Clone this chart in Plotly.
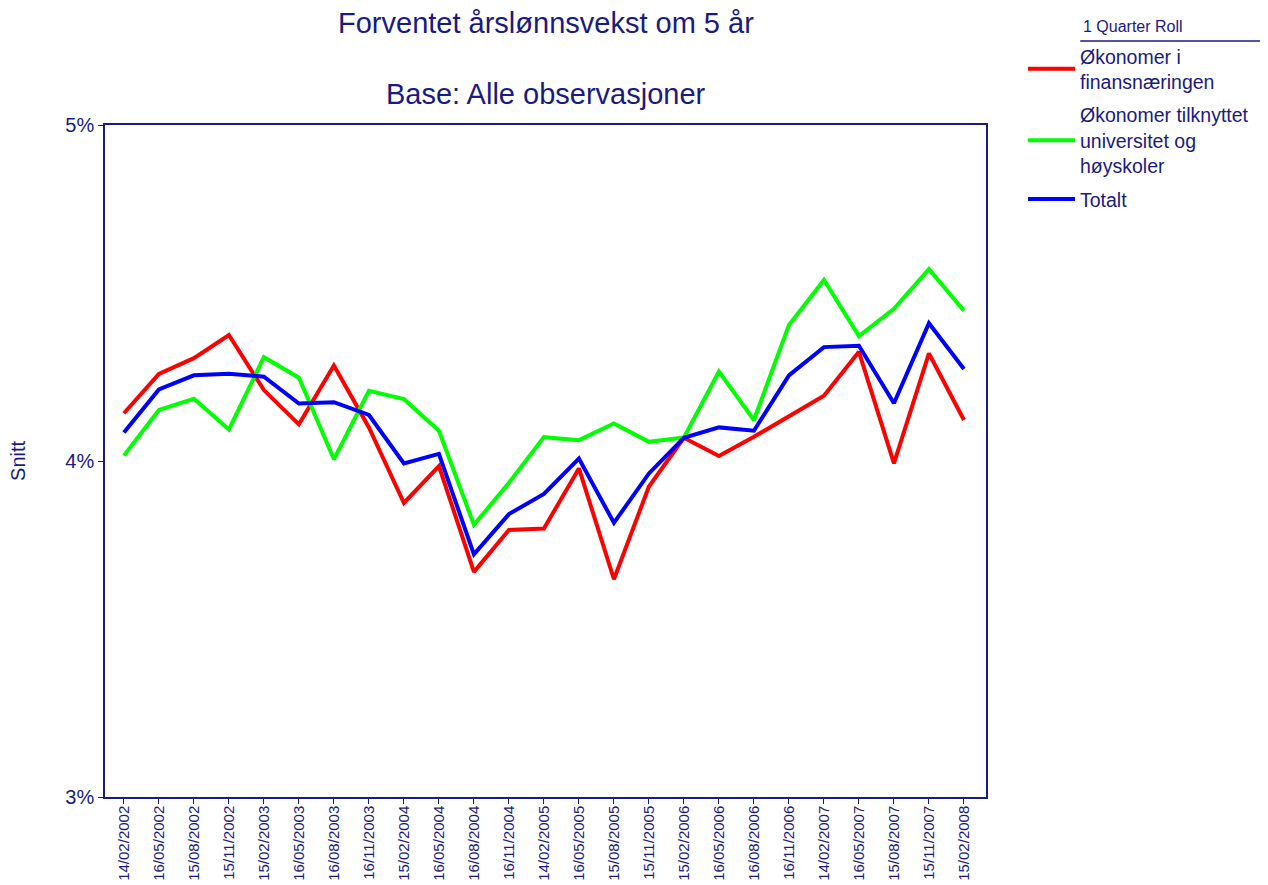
import plotly.graph_objects as go

# Kvartalsdatoer for undersøkelsen
dates = [
    "14/02/2002", "16/05/2002", "15/08/2002", "15/11/2002",
    "15/02/2003", "16/05/2003", "16/08/2003", "16/11/2003",
    "15/02/2004", "16/05/2004", "16/08/2004", "16/11/2004",
    "14/02/2005", "16/05/2005", "15/08/2005", "15/11/2005",
    "15/02/2006", "16/05/2006", "16/08/2006", "16/11/2006",
    "14/02/2007", "16/05/2007", "15/08/2007", "15/11/2007",
    "15/02/2008",
]

# Forventet årslønnsvekst (%)
finans = [4.142, 4.259, 4.306, 4.375, 4.211, 4.109, 4.284, 4.100, 3.875, 3.985,
          3.670, 3.795, 3.799, 3.978, 3.648, 3.924, 4.069, 4.015, 4.072, 4.134,
          4.194, 4.325, 3.993, 4.320, 4.122]
universitet = [4.016, 4.152, 4.185, 4.094, 4.309, 4.248, 4.005, 4.209, 4.184, 4.090,
               3.810, 3.935, 4.071, 4.062, 4.112, 4.057, 4.070, 4.266, 4.122, 4.405,
               4.539, 4.372, 4.453, 4.571, 4.447]
totalt = [4.085, 4.213, 4.255, 4.260, 4.251, 4.171, 4.175, 4.137, 3.993, 4.021,
          3.722, 3.842, 3.902, 4.007, 3.816, 3.963, 4.069, 4.100, 4.090, 4.255,
          4.339, 4.343, 4.172, 4.410, 4.274]

y_ticks = [3, 4, 5]
y_ticktext = ["3%", "4%", "5%"]

NAVY = "#1a1a80"
FONT = "Arial, Liberation Sans, sans-serif"

fig = go.Figure()
fig.add_trace(go.Scatter(x=dates, y=finans, mode="lines", name="Økonomer i<br>finansnæringen",
                         legendgroup="a", line=dict(color="#ff0000", width=4)))
fig.add_trace(go.Scatter(x=dates, y=universitet, mode="lines",
                         name="Økonomer tilknyttet<br>universitet og<br>høyskoler",
                         legendgroup="b", line=dict(color="#00ff00", width=4)))
fig.add_trace(go.Scatter(x=dates, y=totalt, mode="lines", name="Totalt",
                         legendgroup="c", line=dict(color="#0000ff", width=4)))

# siden har 8px marg, så figuren er litt mindre enn vinduet
fig.update_layout(
    width=1260, height=877,
    margin=dict(l=97, r=282, t=117, b=88, autoexpand=False),
    paper_bgcolor="white", plot_bgcolor="white",
    font=dict(family=FONT, color=NAVY),
    showlegend=True,
    legend=dict(
        x=1.042, y=1.131, xanchor="left", yanchor="top",
        itemwidth=47, tracegroupgap=5,
        font=dict(size=19.5, color=NAVY),
        bgcolor="rgba(0,0,0,0)",
    ),
    xaxis=dict(
        type="category", range=[-0.54, 24.63], automargin=False,
        showline=True, linecolor=NAVY, linewidth=1.5, mirror=True,
        ticks="outside", ticklen=5, tickcolor=NAVY,
        tickangle=-90, tickfont=dict(size=15, color=NAVY),
        ticklabelstandoff=-4,
        showgrid=False, zeroline=False,
    ),
    yaxis=dict(
        range=[3, 5], tickvals=y_ticks, ticktext=y_ticktext, automargin=False,
        showline=True, linecolor=NAVY, linewidth=1.5, mirror=True,
        ticks="outside", ticklen=5, tickcolor=NAVY,
        tickfont=dict(size=20, color=NAVY),
        showgrid=False, zeroline=False,
    ),
    annotations=[
        dict(text="Forventet årslønnsvekst om 5 år", xref="paper", yref="paper",
             x=0.5, y=1.152, xanchor="center", yanchor="middle", showarrow=False,
             font=dict(size=29, color=NAVY)),
        dict(text="Base: Alle observasjoner", xref="paper", yref="paper",
             x=0.5, y=1.046, xanchor="center", yanchor="middle", showarrow=False,
             font=dict(size=29, color=NAVY)),
        dict(text="Snitt", xref="paper", yref="paper", x=-0.0988, y=0.5,
             xanchor="center", yanchor="middle", textangle=-90, showarrow=False,
             font=dict(size=20, color=NAVY)),
        dict(text="1 Quarter Roll", xref="paper", yref="paper", x=1.108, y=1.146,
             xanchor="left", yanchor="middle", showarrow=False,
             font=dict(size=16, color=NAVY)),
    ],
    shapes=[
        dict(type="line", xref="paper", yref="paper", x0=1.107, x1=1.32,
             y0=1.125, y1=1.125, line=dict(color=NAVY, width=1.5)),
    ],
)

fig.write_html("out.html")
